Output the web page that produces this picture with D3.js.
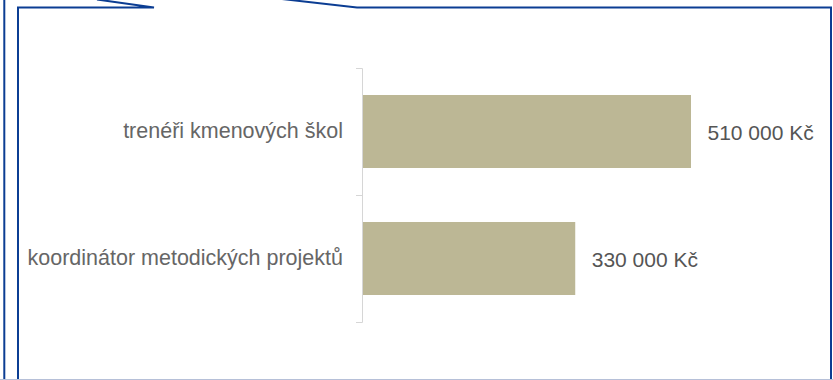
<!DOCTYPE html>
<html>
<head>
<meta charset="utf-8">
<script src="https://cdn.jsdelivr.net/npm/d3@7"></script>
<style>
  html, body { margin: 0; padding: 0; background: #fff; }
  svg { display: block; }
  text { font-family: "Liberation Sans", Arial, sans-serif; }
</style>
</head>
<body>
<svg id="chart" width="833" height="380"></svg>
<script>
const categories = ["trenéři kmenových škol", "koordinátor metodických projektů"];
const values = [510000, 330000];
const valueLabels = ["510 000 Kč", "330 000 Kč"];

const W = 833, H = 380;
const svg = d3.select("#chart");
const frameColor = "#0b3d93";

// decorative frame (callout box)
svg.append("line").attr("x1", 4.3).attr("y1", 0).attr("x2", 4.3).attr("y2", H)
  .attr("stroke", frameColor).attr("stroke-width", 2);
svg.append("path")
  .attr("d", "M18,380 L18,7.5 L154,7.5 L97,-0.5 M282,-1 L357,7.5 L831,7.5 L831,380")
  .attr("fill", "none").attr("stroke", frameColor).attr("stroke-width", 2)
  .attr("stroke-linejoin", "miter");
svg.append("line").attr("x1", 0).attr("y1", 379.5).attr("x2", W).attr("y2", 379.5)
  .attr("stroke", "#b6c0d8").attr("stroke-width", 1);

const y = d3.scaleBand().domain(categories).range([68, 322]).paddingInner(0).paddingOuter(0);
const x = d3.scaleLinear().domain([0, d3.max(values)]).range([363, 691]);
const barH = 73;

const axis = d3.axisLeft(y).tickSizeInner(0).tickSizeOuter(6).tickPadding(19);
const gAxis = svg.append("g").attr("transform", "translate(362,0)").call(axis);
gAxis.select(".domain").attr("stroke", "#d6d6d6");
gAxis.selectAll(".tick line").remove();
gAxis.selectAll(".tick text")
  .attr("font-size", 21.5).attr("fill", "#666666")
  .attr("font-family", "Liberation Sans, Arial, sans-serif");

// tick between categories
gAxis.selectAll(".midtick").data(categories.slice(1)).enter().append("line")
  .attr("class", "midtick")
  .attr("x1", -6).attr("x2", 0)
  .attr("y1", d => y(d) + 0.5).attr("y2", d => y(d) + 0.5)
  .attr("stroke", "#d6d6d6");

const data = categories.map((c, i) => ({ c, v: values[i], l: valueLabels[i] }));

svg.selectAll("rect.bar").data(data).enter().append("rect")
  .attr("class", "bar")
  .attr("x", x(0))
  .attr("y", d => y(d.c) + (y.step() - barH) / 2)
  .attr("width", d => x(d.v) - x(0))
  .attr("height", barH)
  .attr("fill", "#bcb795");

svg.selectAll("text.val").data(data).enter().append("text")
  .attr("class", "val")
  .attr("x", d => x(d.v) + 16.5)
  .attr("y", d => y(d.c) + y.step() / 2 + 1)
  .attr("dy", "0.35em")
  .attr("font-size", 21)
  .attr("fill", "#555555")
  .text(d => d.l);
</script>
</body>
</html>
